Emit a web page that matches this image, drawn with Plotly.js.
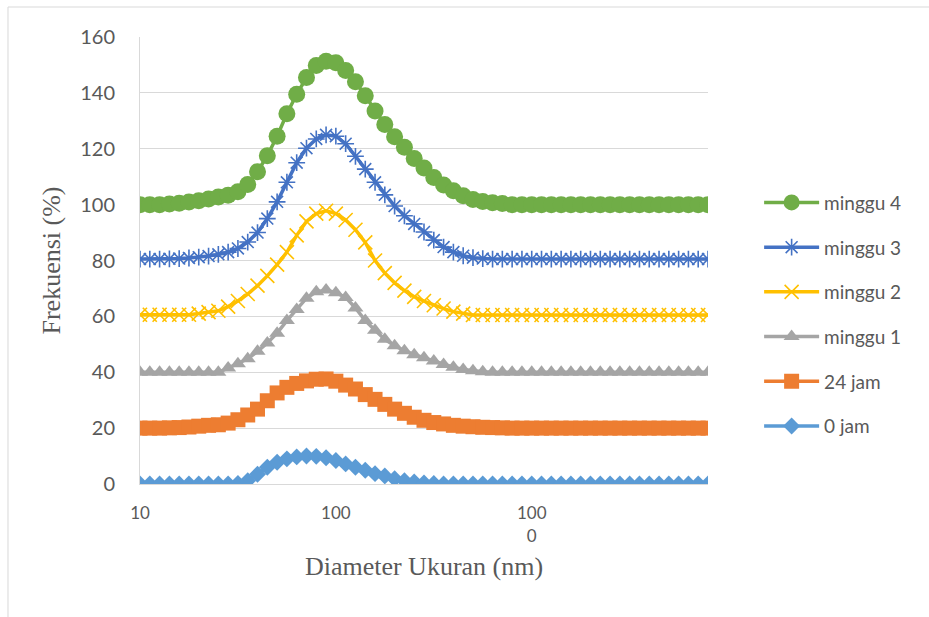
<!DOCTYPE html>
<html>
<head>
<meta charset="utf-8">
<script src="https://cdn.plot.ly/plotly-3.0.1.min.js"></script>
<style>html,body{margin:0;padding:0;background:#fff;}#chart{width:929px;height:617px;}</style>
</head>
<body>
<div id="chart"></div>
<script>
// Particle diameter (nm), one value per size class
const diameter = [10, 11.22, 12.59, 14.13, 15.85, 17.78, 19.95, 22.39, 25.12, 28.18,
  31.62, 35.48, 39.81, 44.67, 50.12, 56.23, 63.10, 70.79, 79.43, 89.13,
  100, 112.2, 125.9, 141.3, 158.5, 177.8, 199.5, 223.9, 251.2, 281.8,
  316.2, 354.8, 398.1, 446.7, 501.2, 562.3, 631.0, 707.9, 794.3, 891.3,
  1000, 1122, 1259, 1413, 1585, 1778, 1995, 2239, 2512, 2818,
  3162, 3548, 3981, 4467, 5012, 5623, 6310, 7079, 7943];

const jam0 = [0,0,0,0,0,0,0,0,0,0,
  0.2,1.2,3.5,6,7.8,9,9.7,10,9.9,9.4,
  8.4,7.2,6,4.9,3.7,2.9,1.9,1.2,0.7,0.4,
  0.2,0,0,0,0,0,0,0,0,0,
  0,0,0,0,0,0,0,0,0,0,
  0,0,0,0,0,0,0,0,0];

const jam24 = [20,20,20,20.1,20.2,20.4,20.7,21,21.2,21.8,
  23,24.7,26.8,29.8,32.6,34.6,36,36.9,37.5,37.6,
  36.8,35.4,34,32,30.3,28.5,26.8,25.3,23.9,22.8,
  22,21.5,21,20.7,20.5,20.3,20.2,20.1,20,20,
  20,20,20,20,20,20,20,20,20,20,
  20,20,20,20,20,20,20,20,20];

const minggu1 = [40,40,40,40,40,40,40,40,40,41.5,
  43,44.8,47.5,50.5,54,58.5,62.5,66.5,68.8,69.4,
  68.5,66.8,63,58.5,55,51.8,49.5,47.7,46.3,45.2,
  44,42.8,41.8,41,40.5,40.2,40,40,40,40,
  40,40,40,40,40,40,40,40,40,40,
  40,40,40,40,40,40,40,40,40];

const minggu2 = [60.6,60.6,60.6,60.6,60.6,60.6,61,61.5,62,63.5,
  65.5,68,71,74.5,78.5,83,89,94,96.8,97.8,
  96.8,94.5,91,86.5,80,75.5,72,69.2,67,65.5,
  64,62.8,61.7,61,60.5,60.5,60.5,60.5,60.5,60.5,
  60.5,60.5,60.5,60.5,60.5,60.5,60.5,60.5,60.5,60.5,
  60.5,60.5,60.5,60.5,60.5,60.5,60.5,60.5,60.5];

const minggu3 = [80.5,80.5,80.5,80.6,80.7,80.9,81.2,81.6,82.2,83,
  84.3,86.6,90,95,101,108,115,120.2,123.5,125,
  124.5,121.8,117.3,112.7,108,103.5,99.5,96,93.1,90.2,
  87.3,84.8,83,81.7,81,80.7,80.5,80.5,80.5,80.5,
  80.5,80.5,80.5,80.5,80.5,80.5,80.5,80.5,80.5,80.5,
  80.5,80.5,80.5,80.5,80.5,80.5,80.5,80.5,80.5];

const minggu4 = [100,100,100,100.2,100.5,100.9,101.4,102,102.7,103.4,
  104.6,107.2,111.8,117.5,124.5,132.5,139.5,145.5,149.8,151.3,
  150.8,148,144,139,133.5,128.7,124.3,120.5,116.5,113.1,
  109.7,107,105,103.2,101.8,101.1,100.7,100.4,100,100,
  100,100,100,100,100,100,100,100,100,100,
  100,100,100,100,100,100,100,100,100];

const seriesNames = ["0 jam", "24 jam", "minggu 1", "minggu 2", "minggu 3", "minggu 4"];
const xTickVals = [10, 100, 1000];
const xTickText = ["10", "100", "100<br>0"];

const seriesData = [jam0, jam24, minggu1, minggu2, minggu3, minggu4];
const colors = ["#5B9BD5", "#ED7D31", "#A5A5A5", "#FFC000", "#4472C4", "#70AD47"];
const symbols = ["diamond", "square", "triangle-up", "x-thin-open", "asterisk-open", "circle"];
const sizes = [13, 15, 14, 14, 14, 17];

const traces = seriesData.map((ys, k) => {
  const open = symbols[k].indexOf("open") >= 0;
  return {
    type: "scatter",
    mode: "lines+markers",
    name: seriesNames[k],
    legendgroup: "g" + k,
    legendrank: 100 - k,
    x: diameter,
    y: ys,
    line: {color: colors[k], width: 3.5},
    marker: {
      symbol: symbols[k],
      size: sizes[k],
      color: colors[k],
      line: open ? {color: colors[k], width: 1.6} : {width: 0}
    }
  };
});

const txt = "#595959";
const layout = {
  width: 929, height: 617,
  margin: {l: 140, r: 221, t: 37, b: 133},
  paper_bgcolor: "#ffffff",
  plot_bgcolor: "#ffffff",
  showlegend: true,
  font: {family: "Lato, sans-serif", color: txt},
  xaxis: {
    type: "log",
    range: [1, 3.9],
    tickvals: xTickVals,
    ticktext: xTickText,
    showgrid: false,
    zeroline: false,
    showline: true,
    linecolor: "#D9D9D9",
    linewidth: 1,
    ticks: "",
    ticklabelstandoff: 14,
    tickfont: {family: "Lato, sans-serif", size: 17, color: txt},
    title: {text: "Diameter Ukuran (nm)", font: {family: "Liberation Serif, serif", size: 26, color: txt}, standoff: 12}
  },
  yaxis: {
    range: [0, 160],
    dtick: 20,
    showgrid: true,
    gridcolor: "#D9D9D9",
    gridwidth: 1,
    zeroline: false,
    showline: true,
    linecolor: "#D9D9D9",
    ticks: "",
    ticklabelstandoff: 20,
    tickfont: {family: "Lato, sans-serif", size: 20, color: txt},
    title: {text: "Frekuensi (%)", font: {family: "Liberation Serif, serif", size: 26, color: txt}, standoff: 12}
  },
  legend: {
    x: 1.09, xanchor: "left",
    y: 0.672, yanchor: "top",
    traceorder: "grouped",
    tracegroupgap: 17,
    itemwidth: 55,
    font: {family: "Lato, sans-serif", size: 19, color: txt},
    bgcolor: "rgba(0,0,0,0)"
  },
  shapes: [
    {type: "line", xref: "paper", yref: "paper", x0: -0.2324, x1: -0.2324, y0: 1.0671, y1: -0.33, line: {color: "#D9D9D9", width: 1}},
    {type: "line", xref: "paper", yref: "paper", x0: -0.2324, x1: 1.45, y0: 1.0671, y1: 1.0671, line: {color: "#D9D9D9", width: 1}}
  ]
};

Plotly.newPlot("chart", traces, layout, {displayModeBar: false, staticPlot: true});
</script>
</body>
</html>
